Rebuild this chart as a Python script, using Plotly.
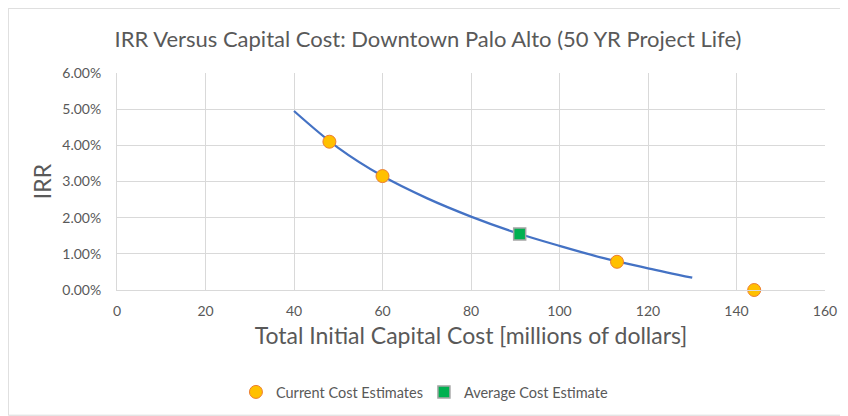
import plotly.graph_objects as go

# Curve (smoothed IRR vs capital cost)
curve_cost = [40, 50, 60, 70, 80, 90, 100, 110, 120, 130]
curve_irr = [0.0495, 0.0393, 0.0315, 0.0254, 0.0203, 0.0159, 0.0122, 0.0088, 0.0060, 0.0034]

# Current cost estimates
current_cost = [48, 60, 113, 144]
current_irr = [0.0410, 0.0315, 0.0078, 0.0000]

# Average cost estimate
avg_cost = [91]
avg_irr = [0.0155]

x_ticks = [0, 20, 40, 60, 80, 100, 120, 140, 160]
y_ticks = [0, 0.01, 0.02, 0.03, 0.04, 0.05, 0.06]

FONT = "Lato"
GRAY = "#595959"

fig = go.Figure()
fig.add_trace(go.Scatter(
    x=curve_cost, y=curve_irr, mode="lines", line=dict(color="#4472C4", width=2.25, shape="spline"),
    showlegend=False, hoverinfo="skip"))
fig.add_trace(go.Scatter(
    x=current_cost, y=current_irr, mode="markers", name="Current Cost Estimates",
    marker=dict(symbol="circle", size=13, color="#FFC000", line=dict(color="#ED7D31", width=1)),
    cliponaxis=False))
fig.add_trace(go.Scatter(
    x=avg_cost, y=avg_irr, mode="markers", name="Average Cost Estimate",
    marker=dict(symbol="square", size=12, color="#00B050", line=dict(color="#A5A5A5", width=1.5)),
    cliponaxis=False))

fig.update_layout(
    width=840, height=408,
    margin=dict(l=109, r=23, t=65, b=126, autoexpand=False),
    paper_bgcolor="white", plot_bgcolor="white",
    font=dict(family=FONT, color=GRAY),
    title=dict(text="IRR Versus Capital Cost: Downtown Palo Alto (50 YR Project Life)",
               x=0.5, xanchor="center", y=0.924, yanchor="middle",
               font=dict(size=22, color=GRAY, family=FONT)),
    xaxis=dict(range=[0, 160], tickvals=x_ticks, showgrid=True, gridcolor="#D9D9D9", gridwidth=1,
               showline=True, linecolor="#D9D9D9", zeroline=False, ticks="", automargin=False,
               ticklabelstandoff=8, tickfont=dict(size=14, color=GRAY),
               title=dict(text="Total Initial Capital Cost [millions of dollars]",
                          font=dict(size=23, color=GRAY), standoff=10)),
    yaxis=dict(range=[0, 0.06], tickvals=y_ticks, tickformat=".2%", showgrid=True,
               gridcolor="#D9D9D9", gridwidth=1, showline=True, linecolor="#D9D9D9",
               zeroline=False, ticks="", automargin=False, ticklabelstandoff=12,
               tickfont=dict(size=14, color=GRAY),
               title=dict(text="IRR", font=dict(size=23, color=GRAY), standoff=4)),
    legend=dict(orientation="h", x=0.168, xanchor="left", y=-0.47, yanchor="middle",
                font=dict(size=14.5, color=GRAY), itemwidth=30, traceorder="normal",
                entrywidth=143, entrywidthmode="pixels"),
    shapes=[dict(type="rect", xref="paper", yref="paper", x0=-0.1535, x1=1.0311, y0=-0.577, y1=1.298,
                 line=dict(color="#D9D9D9", width=1), fillcolor="rgba(0,0,0,0)", layer="below")],
)

fig.write_html("out.html")
